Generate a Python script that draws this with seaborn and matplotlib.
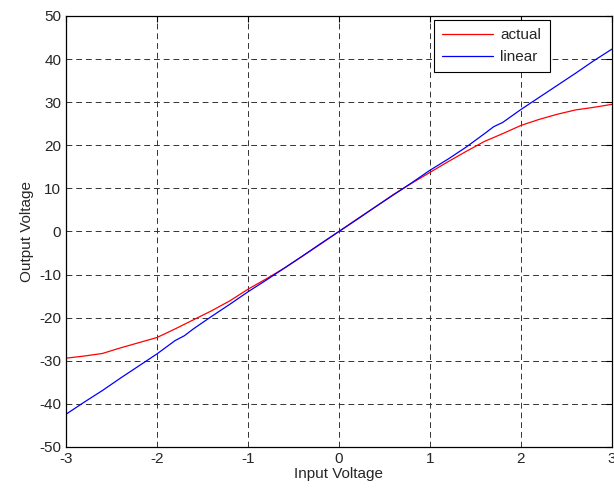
import pandas as pd
import matplotlib
matplotlib.use('Agg')
import matplotlib.pyplot as plt
import seaborn as sns

# values
actual_x = [-3.0, -2.8, -2.6, -2.4, -2.2, -2.0, -1.8, -1.6, -1.4, -1.2, -1.0,
            -0.8, -0.6, -0.4, -0.2, 0.0, 0.2, 0.4, 0.6, 0.8, 1.0, 1.2, 1.4,
            1.6, 1.8, 2.0, 2.2, 2.4, 2.6, 2.8, 3.0]
actual_y = [-29.4, -28.9, -28.3, -27.0, -25.8, -24.6, -22.6, -20.5, -18.4, -16.1, -13.4,
            -11.0, -8.5, -5.7, -2.9, 0.0, 2.9, 5.7, 8.6, 11.2, 13.7, 16.2, 18.6,
            20.9, 22.7, 24.6, 26.0, 27.2, 28.2, 28.8, 29.5]

linear_x = [-3.0, -2.8, -2.6, -2.4, -2.2, -2.0, -1.8, -1.7, -1.6, -1.4, -1.2, -1.0,
            -0.8, -0.6, -0.4, -0.2, 0.0, 0.2, 0.4, 0.6, 0.8, 1.0, 1.2, 1.4,
            1.6, 1.7, 1.8, 2.0, 2.2, 2.4, 2.6, 2.8, 3.0]
linear_y = [-42.4, -39.6, -36.9, -34.0, -31.2, -28.4, -25.3, -24.2, -22.6, -19.7, -16.9, -14.0,
            -11.3, -8.5, -5.7, -2.8, 0.0, 2.8, 5.7, 8.5, 11.3, 14.2, 16.8, 19.6,
            22.7, 24.3, 25.3, 28.3, 31.1, 33.9, 36.7, 39.6, 42.3]

x_ticks = [-3, -2, -1, 0, 1, 2, 3]
y_ticks = [-50, -40, -30, -20, -10, 0, 10, 20, 30, 40, 50]

sns.set_style('white')
plt.rcParams['font.family'] = ['Liberation Sans', 'DejaVu Sans']
plt.rcParams['font.size'] = 11
plt.rcParams['axes.unicode_minus'] = False

fig = plt.figure(figsize=(6.14, 4.95), dpi=100)
ax = fig.add_axes([0.1075, 0.097, 0.889, 0.8707])

df_actual = pd.DataFrame({'x': actual_x, 'y': actual_y})
df_linear = pd.DataFrame({'x': linear_x, 'y': linear_y})
sns.lineplot(data=df_actual, x='x', y='y', color='red', lw=0.9,
             estimator=None, sort=False, label='actual', ax=ax)
sns.lineplot(data=df_linear, x='x', y='y', color='blue', lw=0.9,
             estimator=None, sort=False, label='linear', ax=ax)

ax.set_xlim(-3, 3)
ax.set_ylim(-50, 50)
ax.set_xticks(x_ticks)
ax.set_yticks(y_ticks)
ax.set_xlabel('Input Voltage', fontsize=11, labelpad=1)
ax.set_ylabel('Output Voltage', fontsize=11, labelpad=4)
ax.grid(True, color='#333333', linestyle=(0, (6, 4)), linewidth=0.7)
ax.tick_params(direction='in', length=4, width=0.8, top=True, right=True,
               labelsize=11, pad=3.5, color='black')
for s in ax.spines.values():
    s.set_color('black')
    s.set_linewidth(0.9)

leg = ax.legend(loc='upper right', bbox_to_anchor=(0.886, 0.991), fancybox=False,
                framealpha=1, edgecolor='black', handlelength=3.3,
                borderpad=0.55, labelspacing=0.5, handletextpad=0.5, fontsize=11,
                borderaxespad=0)
leg.get_frame().set_linewidth(0.8)

fig.savefig('out.png', dpi=100)
